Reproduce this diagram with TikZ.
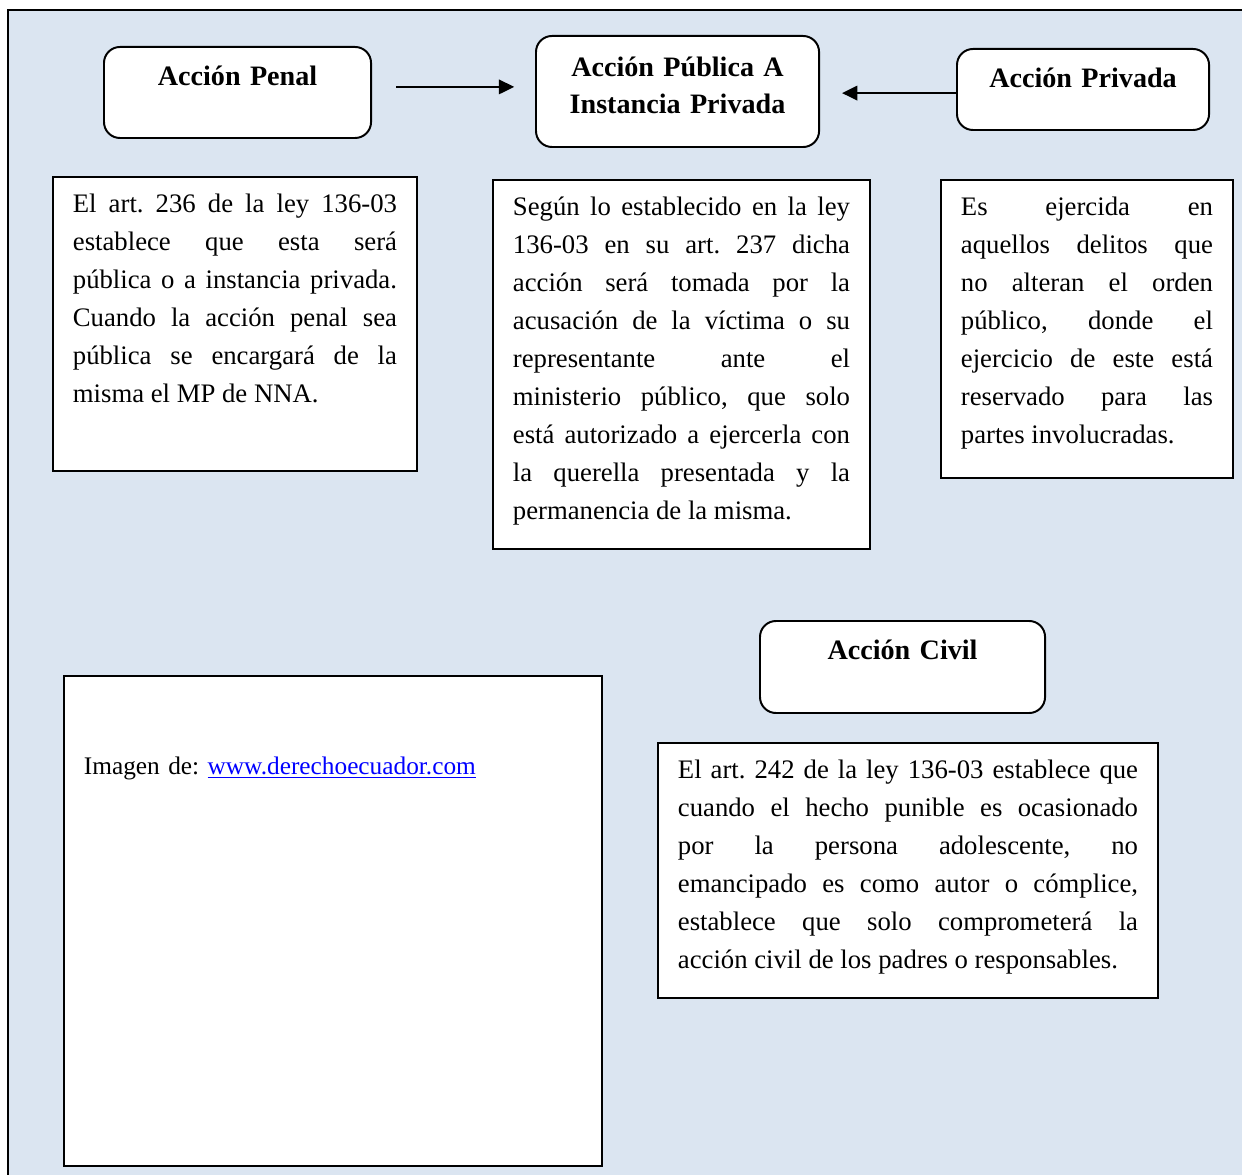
\documentclass[tikz,border=0pt]{standalone}
\usepackage{fontspec}
\setmainfont{Liberation Serif}
\usetikzlibrary{arrows.meta,positioning}
\definecolor{fondo}{RGB}{219,229,241}
\definecolor{enlace}{RGB}{0,0,255}

\begin{document}
\frenchspacing
\begin{tikzpicture}[%
    x=0.025cm, y=-0.025cm,
    >={Triangle[length=0.38cm,width=0.36cm]},
    encabezado/.style={draw, fill=white, line width=1.4pt, rounded corners=0.4cm,
      anchor=north west, inner xsep=0pt, inner ysep=0pt, align=center,
      font=\fontsize{20}{26}\selectfont\bfseries},
    cuadro/.style={draw, fill=white, line width=1.3pt, anchor=north west,
      inner xsep=0.5cm, inner ysep=0pt, text height=0.9cm, align=justify,
      font=\fontsize{19}{27}\selectfont},
    flecha/.style={->, line width=1.4pt}
  ]
    \useasboundingbox (0,0) rectangle (1242,1175);
    % fondo
    \fill[fondo] (8,10) rectangle (1242,1175);
    \draw[line width=1.4pt] (8,1175) -- (8,10) -- (1242,10);

    % encabezados
    \node[encabezado, text width=6.675cm, text height=0.975cm, text depth=1.3cm]
      (penal) at (103,46) {Acción Penal};
    \node[encabezado, text width=7.075cm, text height=1.025cm, text depth=1.75cm]
      (publica) at (535,35) {Acción Pública A\\Instancia Privada};
    \node[encabezado, text width=6.3cm, text height=0.975cm, text depth=1.05cm]
      (privada) at (956,48) {Acción Privada};
    \node[encabezado, text width=7.125cm, text height=0.975cm, text depth=1.325cm]
      (civil) at (759,620) {Acción Civil};

    % textos
    \node[cuadro, text width=8.1cm, text depth=6.45cm] (penaltxt) at (52,176)
      {El art. 236 de la ley 136-03\linebreak
       establece que esta será\linebreak
       pública o a instancia privada.\linebreak
       Cuando la acción penal sea\linebreak
       pública se encargará de la\linebreak
       misma el MP de NNA.};
    \node[cuadro, text width=8.425cm, text depth=8.325cm] (publicatxt) at (492,179)
      {Según lo establecido en la ley\linebreak
       136-03 en su art. 237 dicha\linebreak
       acción será tomada por la\linebreak
       acusación de la víctima o su\linebreak
       representante ante el\linebreak
       ministerio público, que solo\linebreak
       está autorizado a ejercerla con\linebreak
       la querella presentada y la\linebreak
       permanencia de la misma.};
    \node[cuadro, text width=6.3cm, text depth=6.55cm] (privadatxt) at (940,179)
      {Es ejercida en\linebreak
       aquellos delitos que\linebreak
       no alteran el orden\linebreak
       público, donde el\linebreak
       ejercicio de este está\linebreak
       reservado para las\linebreak
       partes involucradas.};
    \node[cuadro, text width=11.5cm, text depth=5.475cm] (civiltxt) at (657,742)
      {El art. 242 de la ley 136-03 establece que\linebreak
       cuando el hecho punible es ocasionado\linebreak
       por la persona adolescente, no\linebreak
       emancipado es como autor o cómplice,\linebreak
       establece que solo comprometerá la\linebreak
       acción civil de los padres o responsables.};
    \node[cuadro, align=left, text width=12.45cm, text height=2.475cm, text depth=9.775cm,
      font=\fontsize{18}{22}\selectfont] (imagen) at (63,675)
      {Imagen de: \textcolor{enlace}{\underline{www.derechoecuador.com}}};

    % flechas
    \coordinate (a1) at ([yshift=0.14cm]penal.east);
    \coordinate (a2) at ([yshift=-0.09cm]privada.west);
    \draw[flecha, shorten <=0.6cm, shorten >=0.52cm] (a1) -- (a1 -| publica.west);
    \draw[flecha, shorten >=0.55cm] (a2) -- (a2 -| publica.east);
  \end{tikzpicture}
\end{document}
